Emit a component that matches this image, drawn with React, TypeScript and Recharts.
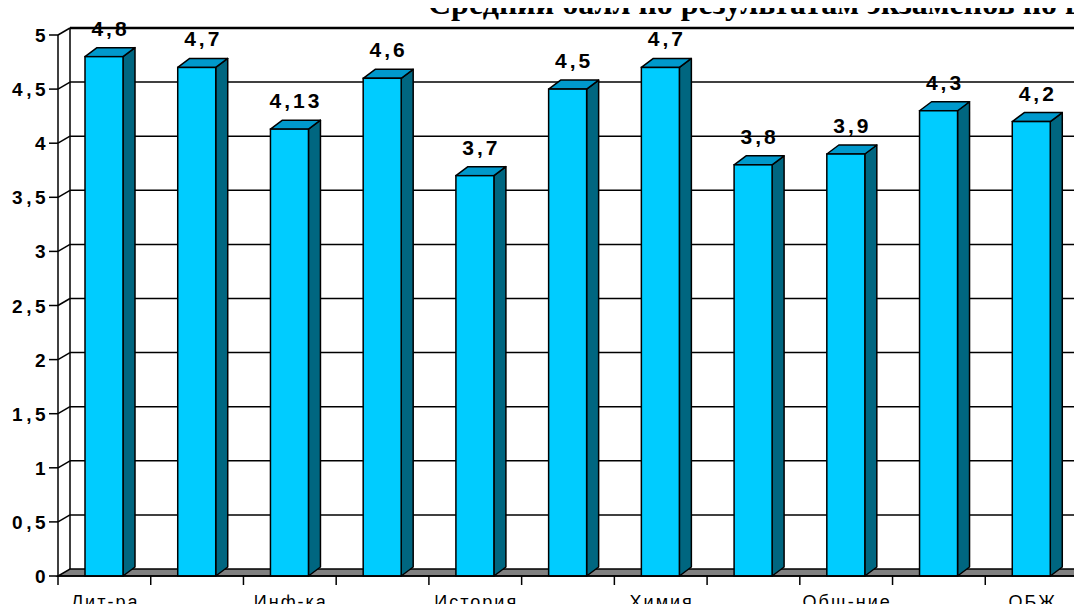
import React from 'react';
import { BarChart, Bar, XAxis, YAxis, CartesianGrid, LabelList } from 'recharts';

// subjects (only every second name is printed under the axis, as in the original)
const subjects = ['Лит-ра', 'Рус. яз', 'Инф-ка', 'Алгебра', 'История', 'Биология', 'Химия', 'Физика', 'Общ-ние', 'География', 'ОБЖ'];
const scores = [4.8, 4.7, 4.13, 4.6, 3.7, 4.5, 4.7, 3.8, 3.9, 4.3, 4.2];
const yTicks = [0, 0.5, 1, 1.5, 2, 2.5, 3, 3.5, 4, 4.5, 5];
const title = 'Средний балл по результатам экзаменов по выбору';

const data = subjects.map((subject, i) => ({ subject, score: scores[i] }));

const W = 1082;
const H = 612;
const PLOT_TOP = 35;
const PLOT_BOTTOM = 576;
const PLOT_LEFT = 58;
const PLOT_RIGHT = 1078;

// depth of the fake 3d
const WALL_DX = 12;
const WALL_DY = 7;
const BAR_DX = 12;
const BAR_DY = 9;

const SANS = "'Liberation Sans', Arial, sans-serif";
const comma = (v: number) => String(v).replace('.', ',');

// horizontal grid: line on the back wall + slanted joint to the front axis, floor for 0
const gridLine = (props: any) => {
  const { x1, x2, y1 } = props;
  const bx = x1 + WALL_DX;
  const by = y1 - WALL_DY;
  const key = `g-${y1}`;
  if (y1 >= PLOT_BOTTOM - 0.5) {
    return (
      <polygon
        key={key}
        points={`${x1},${y1} ${x2},${y1} ${x2 + WALL_DX},${by} ${bx},${by}`}
        fill="#808080"
        stroke="#000"
        strokeWidth={1.5}
      />
    );
  }
  const isTop = y1 <= PLOT_TOP + 0.5;
  return (
    <g key={key}>
      <line x1={x1} y1={y1} x2={bx} y2={by} stroke="#000" strokeWidth={1.5} />
      <line x1={bx} y1={by} x2={x2 + WALL_DX} y2={by} stroke="#000" strokeWidth={isTop ? 2.5 : 1.5} />
      {isTop && (
        <line x1={bx} y1={by} x2={bx} y2={PLOT_BOTTOM - WALL_DY} stroke="#000" strokeWidth={1.5} />
      )}
    </g>
  );
};

const Bar3D = (props: any) => {
  const { x, y, width, height } = props;
  if (!height || height <= 0) return null;
  const r = x + width;
  const b = y + height;
  return (
    <g>
      <polygon
        points={`${r},${y} ${r + BAR_DX},${y - BAR_DY} ${r + BAR_DX},${b - BAR_DY} ${r},${b}`}
        fill="#006680"
        stroke="#000"
        strokeWidth={1.5}
        strokeLinejoin="round"
      />
      <polygon
        points={`${x},${y} ${x + BAR_DX},${y - BAR_DY} ${r + BAR_DX},${y - BAR_DY} ${r},${y}`}
        fill="#0099CC"
        stroke="#000"
        strokeWidth={1.5}
        strokeLinejoin="round"
      />
      <rect x={x} y={y} width={width} height={height} fill="#00CCFF" stroke="#000" strokeWidth={1.5} />
    </g>
  );
};

const renderValue = (props: any) => {
  const { x, y, width, value } = props;
  return (
    <text
      x={x + width / 2 + 6.5}
      y={y - 21}
      textAnchor="middle"
      fontFamily={SANS}
      fontWeight="bold"
      fontSize={21}
      letterSpacing={3}
      fill="#000"
    >
      {comma(value)}
    </text>
  );
};

const YTick = (props: any) => {
  const { x, y, payload } = props;
  return (
    <text
      x={x}
      y={y}
      dy={7}
      textAnchor="end"
      fontFamily={SANS}
      fontWeight="bold"
      fontSize={19}
      letterSpacing={3.5}
      fill="#000"
    >
      {comma(payload.value)}
    </text>
  );
};

const XTick = (props: any) => {
  const { x, y, payload, index } = props;
  const half = payload && payload.offset ? payload.offset : (PLOT_RIGHT - PLOT_LEFT) / subjects.length / 2;
  const last = index === subjects.length - 1;
  return (
    <g>
      <line x1={x - half} y1={y} x2={x - half} y2={y + 9} stroke="#000" strokeWidth={1.5} />
      {last && <line x1={x + half} y1={y} x2={x + half} y2={y + 9} stroke="#000" strokeWidth={1.5} />}
      {index % 2 === 0 && (
        <text x={x + 1} y={y + 32} textAnchor="middle" fontFamily={SANS} fontSize={18} letterSpacing={2} fill="#000">
          {payload.value}
        </text>
      )}
    </g>
  );
};

export default function App() {
  return (
    <div style={{ position: 'relative', width: W, height: H, margin: -8, overflow: 'hidden', background: '#fff' }}>
      <BarChart
        width={W}
        height={H}
        data={data}
        margin={{ top: PLOT_TOP, right: W - PLOT_RIGHT, bottom: 0, left: 0 }}
        barSize={38}
      >
        <CartesianGrid vertical={false} horizontal={gridLine} />
        <XAxis
          dataKey="subject"
          height={H - PLOT_BOTTOM}
          interval={0}
          tickLine={false}
          tickSize={0}
          tickMargin={0}
          tick={XTick}
          axisLine={{ stroke: '#000', strokeWidth: 1.5 }}
        />
        <YAxis
          width={PLOT_LEFT}
          domain={[0, 5]}
          ticks={yTicks}
          interval={0}
          tickSize={9}
          tickMargin={0}
          tick={YTick}
          tickLine={{ stroke: '#000', strokeWidth: 1.5 }}
          axisLine={{ stroke: '#000', strokeWidth: 1.5 }}
        />
        <Bar dataKey="score" shape={Bar3D} isAnimationActive={false}>
          <LabelList dataKey="score" content={renderValue} />
        </Bar>
      </BarChart>
      <div
        style={{
          position: 'absolute',
          left: 428,
          top: -12,
          fontFamily: "'Liberation Serif', 'Times New Roman', serif",
          fontWeight: 'bold',
          fontSize: 32,
          lineHeight: '30px',
          whiteSpace: 'nowrap',
          color: '#000',
        }}
      >
        {title}
      </div>
    </div>
  );
}
